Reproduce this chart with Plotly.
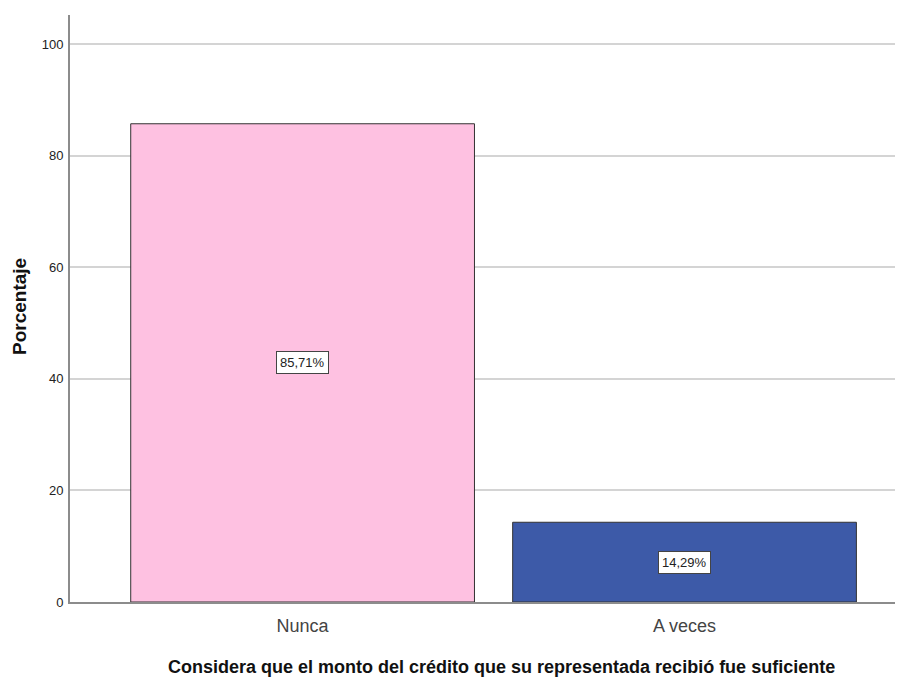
import plotly.graph_objects as go

categories = ["Nunca", "A veces"]
values = [85.71, 14.29]
labels = ["85,71%", "14,29%"]
colors = ["#FEC1E1", "#3D5AA8"]
y_ticks = [0, 20, 40, 60, 80, 100]
x_title = "Considera que el monto del crédito que su representada recibió fue suficiente"
y_title = "Porcentaje"

FONT = "Liberation Sans, Arial, sans-serif"

fig = go.Figure()
fig.add_trace(go.Bar(
    x=categories, y=values, width=0.9,
    marker=dict(color=colors, line=dict(color="#333333", width=1)),
    hoverinfo="skip",
))

for c, v, t in zip(categories, values, labels):
    fig.add_annotation(x=c, y=v / 2, text=t, showarrow=False,
                       font=dict(family=FONT, size=13, color="#222222"),
                       bgcolor="white", bordercolor="#444444", borderwidth=1, borderpad=3)

fig.add_annotation(xref="paper", yref="paper", x=0.5186, y=-0.1107,
                   xanchor="center", yanchor="middle", showarrow=False,
                   text="<b>" + x_title + "</b>",
                   font=dict(family=FONT, size=18, color="#111111"))
fig.add_annotation(xref="paper", yref="paper", x=-0.060, y=0.5026,
                   xanchor="center", yanchor="middle", showarrow=False, textangle=-90,
                   text="<b>" + y_title + "</b>",
                   font=dict(family=FONT, size=19, color="#111111"))

fig.update_layout(
    width=903, height=671,
    margin=dict(l=62, r=8, t=7, b=77),
    plot_bgcolor="white", paper_bgcolor="white",
    showlegend=False,
    font=dict(family=FONT),
    xaxis=dict(
        range=[-0.609, 1.572],
        showline=True, linecolor="#8c8c8c", linewidth=2,
        showgrid=False, ticks="",
        tickfont=dict(family=FONT, size=18, color="#444444"),
        ticklabelstandoff=6,
    ),
    yaxis=dict(
        range=[0, 105.2],
        tickvals=y_ticks,
        showline=True, linecolor="#8c8c8c", linewidth=2,
        showgrid=True, gridcolor="#d4d4d4", gridwidth=2,
        zeroline=False, ticks="",
        tickfont=dict(family=FONT, size=13, color="#222222"),
        ticklabelstandoff=2,
    ),
)

fig.write_html("out.html")
